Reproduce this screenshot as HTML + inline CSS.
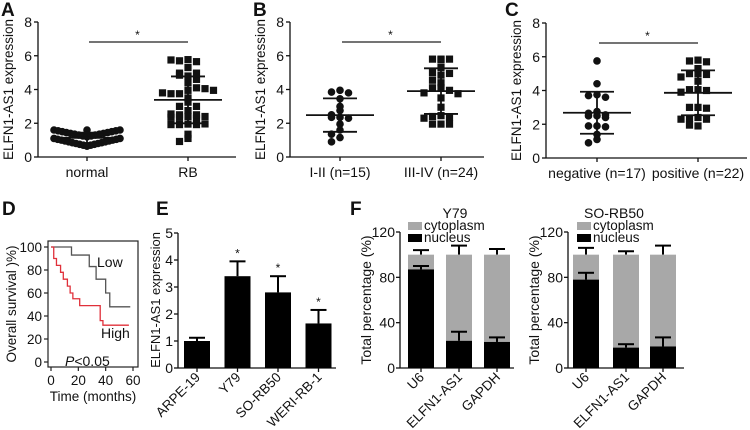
<!DOCTYPE html>
<html><head><meta charset="utf-8"><style>
html,body{margin:0;padding:0;background:#fff;}
svg{display:block;font-family:"Liberation Sans",Arial,sans-serif;}
</style></head><body>
<svg id="fig" width="750" height="430" viewBox="0 0 750 430" xmlns="http://www.w3.org/2000/svg"></svg>
<script>
// ---------- DATA ----------
const aNormal=[1.6,1.6,1.55,1.55,1.5,1.5,1.45,1.45,1.4,1.4,1.35,1.35,1.3,1.3,1.25,1.25,1.2,1.2,1.6,1.1,1.1,1.05,1.05,1.0,1.0,0.95,0.95,0.9,0.9,0.85,0.85,0.8,0.8,0.75,0.75,0.7,0.7,0.65,0.65];
const aRB=[5.77,5.7,5.65,5.75,5.3,4.97,4.8,4.85,4.97,4.6,4.4,3.95,3.75,4.1,3.75,4.05,3.8,3.95,3.5,3.25,3.0,3.0,2.75,2.5,2.4,2.35,2.3,2.35,2.4,2.5,2.55,1.95,1.92,1.92,1.92,1.96,1.35,1.1,0.92];
const bEarly=[3.95,3.85,3.8,3.45,3.0,2.75,2.5,2.35,2.35,2.3,1.95,1.6,1.35,1.15,0.9];
const bLate=[5.8,5.75,5.8,5.8,5.3,5.0,4.95,4.85,4.55,4.4,4.1,4.1,3.95,3.8,3.75,3.5,2.95,2.45,2.4,2.35,2.3,1.95,1.95,1.95];
const cNeg=[5.75,4.4,3.75,3.7,3.6,2.75,2.65,2.55,2.5,2.5,2.4,1.9,1.9,1.85,1.4,1.1,0.9];
const cPos=[5.8,5.75,5.7,5.3,5.0,5.0,4.95,4.8,4.55,4.05,4.05,4.0,3.9,3.0,3.0,2.95,2.4,2.35,2.3,2.3,1.9,1.95];
const kmLowT=[0,15,28,33,40,43,58];
const kmLowS=[100,93,83,72,60,48,48];
const kmHighT=[0,2,4,7,9,12,14,16,21,23,36,38,57];
const kmHighS=[100,90,84,78,72,66,60,55,49,49,36,32,32];
const eCats=["ARPE-19","Y79","SO-RB50","WERI-RB-1"];
const eVals=[1.0,3.4,2.8,1.65];
const eErr=[0.12,0.55,0.6,0.5];
const fCats=["U6","ELFN1-AS1","GAPDH"];
const fY79Nuc=[87,24,23];
const fY79NucErr=[3,8,4];
const fY79CytErr=[4,8,5];
const fSONuc=[78,18,19];
const fSONucErr=[6,3,8];
const fSOCytErr=[6,3,8];

const svg=document.getElementById('fig');
const NS="http://www.w3.org/2000/svg";
function el(tag,attrs,parent){const e=document.createElementNS(NS,tag);for(const k in attrs)e.setAttribute(k,attrs[k]);(parent||svg).appendChild(e);return e;}
function txt(s,x,y,size,anchor,extra,parent){const t=el('text',Object.assign({x:x,y:y,'font-size':size,'text-anchor':anchor||'middle',fill:'#111'},extra||{}),parent);t.textContent=s;return t;}
function line(x1,y1,x2,y2,w,c,parent){return el('line',{x1,y1,x2,y2,stroke:c||'#111','stroke-width':w||1.3},parent);}
function mean(a){return a.reduce((s,v)=>s+v,0)/a.length;}
function sd(a){const m=mean(a);return Math.sqrt(a.reduce((s,v)=>s+(v-m)*(v-m),0)/(a.length-1));}

// ---------- SCATTER PANELS ----------
function scatterPanel(o){
  const g=el('g',{});
  
  
  const y=v=>o.y0-(v/8)*(o.y0-o.y8);
  line(o.ax,o.y8,o.ax,o.y0,1.3,'#111',g);
  line(o.ax,o.y0,o.xEnd,o.y0,1.3,'#111',g);
  [0,2,4,6,8].forEach(t=>{line(o.ax-4,y(t),o.ax,y(t),1.3,'#111',g);const tl=txt(String(t),o.ax-6,y(t)+5,14,'end',{},g);});
  const yt=txt("ELFN1-AS1 expression",0,0,13.5,'middle',{transform:`translate(${o.ax-25},${(o.y0+o.y8)/2}) rotate(-90)`},g);
  
  o.groups.forEach((gr,gi)=>{
    const cx=o.cx[gi];
    line(cx,o.y0,cx,o.y0+4,1.3,'#111',g);
    const xl=txt(gr.label,cx,o.y0+20,14,'middle',{},g);
    
    const rowH=7,used={},seen={};
    gr.vals.forEach(v=>{
      let px;
      if(gr.vshape){
        const upper=v>=1.15, base=upper?1.2:0.65, range=upper?0.4:0.45;
        const k=v.toFixed(2);const n=seen[k]||0;seen[k]=n+1;
        let off=(v-base)/range*33;
        if(upper&&n===2) off=0;
        px=cx+(n%2===0?-1:1)*off;
      } else {
        const row=Math.round(y(v)/rowH);
        const n=used[row]||0;used[row]=n+1;
        px=cx+(n%2===0?1:-1)*Math.ceil(n/2)*8.5;
      }
      const py=y(v);
      let m;
      if(gr.shape==='sq') m=el('rect',{x:px-3.6,y:py-3.6,width:7.2,height:7.2,fill:'#111'},g);
      else m=el('circle',{cx:px,cy:py,r:3.8,fill:'#111'},g);
      
    });
    const m=mean(gr.vals),s=sd(gr.vals);
    line(cx-34,y(m),cx+34,y(m),1.8,'#111',g);
    line(cx,y(m-s),cx,y(m+s),1.8,'#111',g);
    line(cx-17,y(m-s),cx+17,y(m-s),1.8,'#111',g);
    line(cx-17,y(m+s),cx+17,y(m+s),1.8,'#111',g);
  });
  line(o.cx[0]+2,o.sigY,o.cx[1],o.sigY,1.2,'#222',g);
  txt("*",(o.cx[0]+o.cx[1])/2,o.sigY-3,12,'middle',{},g);
  const L=txt(o.letter,o.lx,16,19,'start',{'font-weight':'bold'},g);
  
}
scatterPanel({name:'panel-a-scatter',letter:'A',lx:1,ax:38,y0:157,y8:22,xEnd:236,cx:[87,188],sigY:42,
  groups:[{label:'normal',vals:aNormal,shape:'c',vshape:true},{label:'RB',vals:aRB,shape:'sq'}]});
scatterPanel({name:'panel-b-scatter',letter:'B',lx:253,ax:290,y0:157,y8:22,xEnd:484,cx:[340,441],sigY:42,
  groups:[{label:'I-II (n=15)',vals:bEarly,shape:'c'},{label:'III-IV (n=24)',vals:bLate,shape:'sq'}]});
scatterPanel({name:'panel-c-scatter',letter:'C',lx:505,ax:546,y0:158,y8:23,xEnd:747,cx:[597,698],sigY:43,
  groups:[{label:'negative (n=17)',vals:cNeg,shape:'c'},{label:'positive (n=22)',vals:cPos,shape:'sq'}]});

// ---------- KM PANEL D ----------
(function(){
  const g=el('g',{});
  
  const x=t=>51+t/60*82, y=s=>362-s/100*115;
  el('rect',{x:48,y:241,width:90,height:126,fill:'none',stroke:'#222','stroke-width':1.2},g);
  [0,20,40,60,80,100].forEach(t=>{line(44,y(t),48,y(t),1.2,'#222',g);txt(String(t),42,y(t)+5,13.5,'end',{},g);});
  [0,20,40,60].forEach(t=>{line(x(t),367,x(t),371,1.2,'#222',g);txt(String(t),x(t),385,13.5,'middle',{},g);});
  txt("Time (months)",93,401,13.5,'middle',{},g);
  const yt=txt("Overall survival )%)",0,0,13.5,'middle',{transform:'translate(16,304) rotate(-90)'},g);
  
  function step(T,S,c,nm){let d=`M${x(T[0])},${y(S[0])}`;for(let i=1;i<T.length;i++){d+=` H${x(T[i])} V${y(S[i])}`;}
    const p=el('path',{d:d,fill:'none',stroke:c,'stroke-width':1.3},g);}
  step(kmLowT,kmLowS,'#555','low-curve');
  step(kmHighT,kmHighS,'#e0303a','high-curve');
  txt("Low",97,267,14,'start',{},g);
  txt("High",101,338,14,'start',{},g);
  const p=txt("",65,366,14,'start',{},g);p.innerHTML='<tspan font-style="italic">P</tspan>&lt;0.05';
  txt("D",2,215,19,'start',{'font-weight':'bold'},g);
})();

// ---------- BAR PANEL E ----------
(function(){
  const g=el('g',{});
  
  const y=v=>368-v/5*135, ax=178, x0=197, step=40.5, bw=26;
  line(ax,233,ax,368,1.3,'#111',g);line(ax,368,336,368,1.3,'#111',g);
  [0,1,2,3,4,5].forEach(t=>{line(ax-4,y(t),ax,y(t),1.3,'#111',g);txt(String(t),ax-5,y(t)+5,14,'end',{},g);});
  const yt=txt("ELFN1-AS1 expression",0,0,13,'middle',{transform:`translate(160,300) rotate(-90)`},g);
  
  eCats.forEach((c,i)=>{
    const cx=x0+i*step;
    const b=el('rect',{x:cx-bw/2,y:y(eVals[i]),width:bw,height:368-y(eVals[i]),fill:'#000'},g);
    
    const top=y(eVals[i]+eErr[i]);
    line(cx,y(eVals[i]),cx,top,2,'#000',g);line(cx-8,top,cx+8,top,2,'#000',g);
    if(i>0) txt("*",cx,top-4,12,'middle',{},g);
    line(cx,368,cx,372,1.3,'#111',g);
    txt(c,cx+4,378,13.5,'end',{transform:`rotate(-45 ${cx+4} 378)`},g);
  });
  txt("E",156,215,19,'start',{'font-weight':'bold'},g);
})();

// ---------- STACKED PANELS F ----------
function stacked(o){
  const g=el('g',{});
  
  const y=v=>368-v/120*136, bw=26;
  line(o.ax,232,o.ax,368,1.3,'#111',g);line(o.ax,368,o.xEnd,368,1.3,'#111',g);
  [0,40,80,120].forEach(t=>{line(o.ax-4,y(t),o.ax,y(t),1.3,'#111',g);txt(String(t),o.ax-5,y(t)+5,14,'end',{},g);});
  const yt=txt("Total percentage (%)",0,0,14,'middle',{transform:`translate(${o.ax-29},300) rotate(-90)`},g);
  
  txt(o.title,o.tx,218,14,'middle',{},g);
  el('rect',{x:o.lgx,y:222,width:14,height:8,fill:'#a8a8a8'},g);txt("cytoplasm",o.lgx+16,230,13.5,'start',{},g);
  el('rect',{x:o.lgx,y:234,width:14,height:8,fill:'#000'},g);txt("nucleus",o.lgx+16,242,13.5,'start',{},g);
  fCats.forEach((c,i)=>{
    const cx=o.cx[i],n=o.nuc[i];
    const ct=y(100+o.cytErr[i]);
    line(cx,y(100),cx,ct,2,'#000',g);line(cx-8,ct,cx+8,ct,2,'#000',g);
    const cb=el('rect',{x:cx-bw/2,y:y(100),width:bw,height:y(n)-y(100),fill:'#a8a8a8'},g);
    
    const nt=y(n+o.nucErr[i]);
    line(cx,y(n),cx,nt,2,'#000',g);line(cx-8,nt,cx+8,nt,2,'#000',g);
    const nb=el('rect',{x:cx-bw/2,y:y(n),width:bw,height:368-y(n),fill:'#000'},g);
    
    line(cx,368,cx,372,1.3,'#111',g);
    txt(c,cx+4,378,13.5,'end',{transform:`rotate(-45 ${cx+4} 378)`},g);
  });
}
stacked({name:'panel-f-y79',title:'Y79',ax:400,xEnd:514,cx:[421,459,497],tx:455,lgx:408,nuc:fY79Nuc,nucErr:fY79NucErr,cytErr:fY79CytErr});
stacked({name:'panel-f-sorb50',title:'SO-RB50',ax:568,xEnd:684,cx:[586,626,663],tx:614,lgx:577,nuc:fSONuc,nucErr:fSONucErr,cytErr:fSOCytErr});
txt("F",350,215,19,'start',{'font-weight':'bold'});
</script>
</body></html>
